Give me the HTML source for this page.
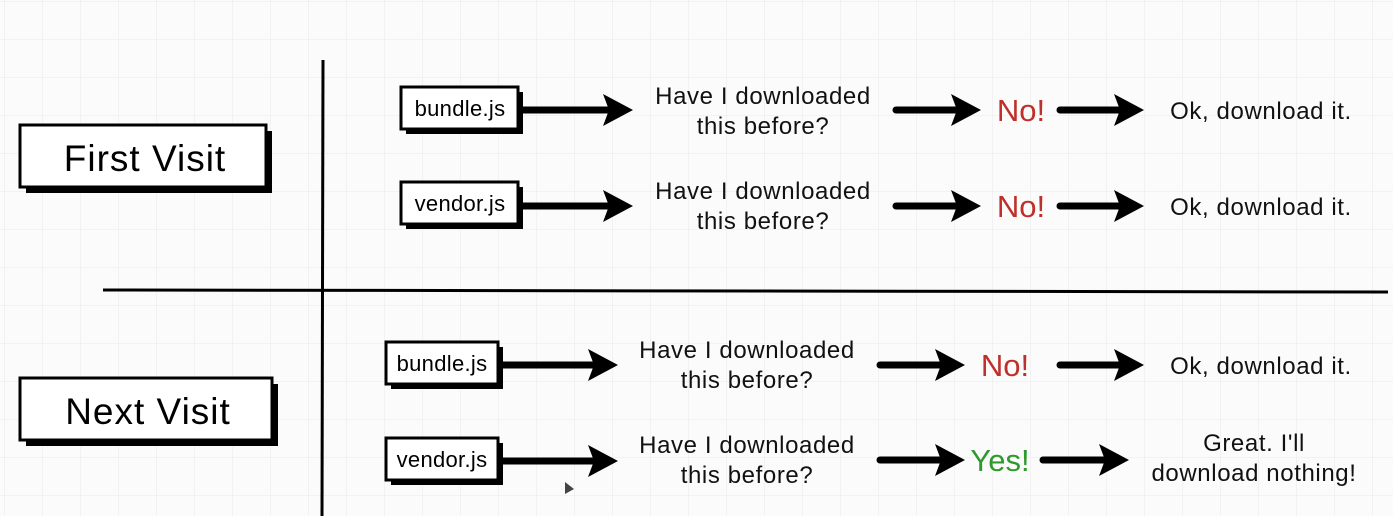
<!DOCTYPE html>
<html><head><meta charset="utf-8"><style>
html,body{margin:0;padding:0;background:#fbfbfb;}
svg{display:block;font-family:"Liberation Sans",sans-serif;}
</style></head><body>
<svg width="1393" height="516" viewBox="0 0 1393 516" xmlns="http://www.w3.org/2000/svg">
<defs>
<pattern id="g" width="38" height="38" patternUnits="userSpaceOnUse" x="5" y="2">
<path d="M38 0V38M0 38H38" stroke="#ececec" stroke-width="1.2" fill="none"/>
</pattern>
<g id="ah"><polygon points="-30,-16 0,0 -30,16 -24,0" fill="#000"/></g>
</defs>
<rect width="1393" height="516" fill="url(#g)"/>
<line x1="323" y1="60" x2="322" y2="516" stroke="#000" stroke-width="3"/>
<line x1="103" y1="290" x2="1388" y2="292" stroke="#000" stroke-width="3"/>

<rect x="26" y="131" width="246" height="62" fill="#000"/>
<rect x="20" y="125" width="246" height="62" fill="#fff" stroke="#000" stroke-width="3"/>
<text x="145" y="171" font-size="37" text-anchor="middle" letter-spacing="1">First Visit</text>
<rect x="26" y="384" width="252" height="62" fill="#000"/>
<rect x="20" y="378" width="252" height="62" fill="#fff" stroke="#000" stroke-width="3"/>
<text x="148" y="424" font-size="37" text-anchor="middle" letter-spacing="1">Next Visit</text>

<g font-size="22" text-anchor="middle" letter-spacing="0.3">
<rect x="406" y="92" width="117" height="42" fill="#000"/>
<rect x="401" y="87" width="117" height="42" fill="#fff" stroke="#000" stroke-width="3"/>
<text x="460" y="116">bundle.js</text>
<rect x="406" y="187" width="117" height="42" fill="#000"/>
<rect x="401" y="182" width="117" height="42" fill="#fff" stroke="#000" stroke-width="3"/>
<text x="460" y="211">vendor.js</text>
<rect x="391" y="347" width="112" height="42" fill="#000"/>
<rect x="386" y="342" width="112" height="42" fill="#fff" stroke="#000" stroke-width="3"/>
<text x="442" y="371">bundle.js</text>
<rect x="391" y="443" width="112" height="42" fill="#000"/>
<rect x="386" y="438" width="112" height="42" fill="#fff" stroke="#000" stroke-width="3"/>
<text x="442" y="467">vendor.js</text>
</g>

<g stroke="#000" stroke-width="7" stroke-linecap="round">
<line x1="522" y1="110" x2="608" y2="110"/><line x1="896" y1="110" x2="960" y2="110"/><line x1="1060" y1="110" x2="1120" y2="110"/>
<line x1="522" y1="206" x2="608" y2="206"/><line x1="896" y1="206" x2="960" y2="206"/><line x1="1060" y1="206" x2="1120" y2="206"/>
<line x1="503" y1="365" x2="594" y2="365"/><line x1="880" y1="365" x2="944" y2="365"/><line x1="1060" y1="365" x2="1120" y2="365"/>
<line x1="503" y1="461" x2="594" y2="461"/><line x1="880" y1="460" x2="944" y2="460"/><line x1="1043" y1="460" x2="1106" y2="460"/>
</g>
<use href="#ah" x="633" y="110"/><use href="#ah" x="981" y="110"/><use href="#ah" x="1144" y="110"/>
<use href="#ah" x="633" y="206"/><use href="#ah" x="981" y="206"/><use href="#ah" x="1144" y="206"/>
<use href="#ah" x="618" y="365"/><use href="#ah" x="965" y="365"/><use href="#ah" x="1144" y="365"/>
<use href="#ah" x="618" y="461"/><use href="#ah" x="965" y="460"/><use href="#ah" x="1129" y="460"/>

<g font-size="24" text-anchor="middle" fill="#111" letter-spacing="0.6">
<text x="763" y="104">Have I downloaded</text><text x="763" y="134">this before?</text>
<text x="763" y="199">Have I downloaded</text><text x="763" y="229">this before?</text>
<text x="747" y="358">Have I downloaded</text><text x="747" y="388">this before?</text>
<text x="747" y="453">Have I downloaded</text><text x="747" y="483">this before?</text>
<text x="1261" y="119">Ok, download it.</text>
<text x="1261" y="215">Ok, download it.</text>
<text x="1261" y="374">Ok, download it.</text>
<text x="1254" y="451">Great.  I'll</text>
<text x="1254" y="481">download nothing!</text>
</g>
<g font-size="31" text-anchor="middle">
<text x="1021" y="121" fill="#c0302a">No!</text>
<text x="1021" y="217" fill="#c0302a">No!</text>
<text x="1005" y="376" fill="#c0302a">No!</text>
<text x="1000" y="471" fill="#2e9a2e">Yes!</text>
</g>
<polygon points="565,482 565,494 574,489" fill="#444"/>
</svg>
</body></html>
